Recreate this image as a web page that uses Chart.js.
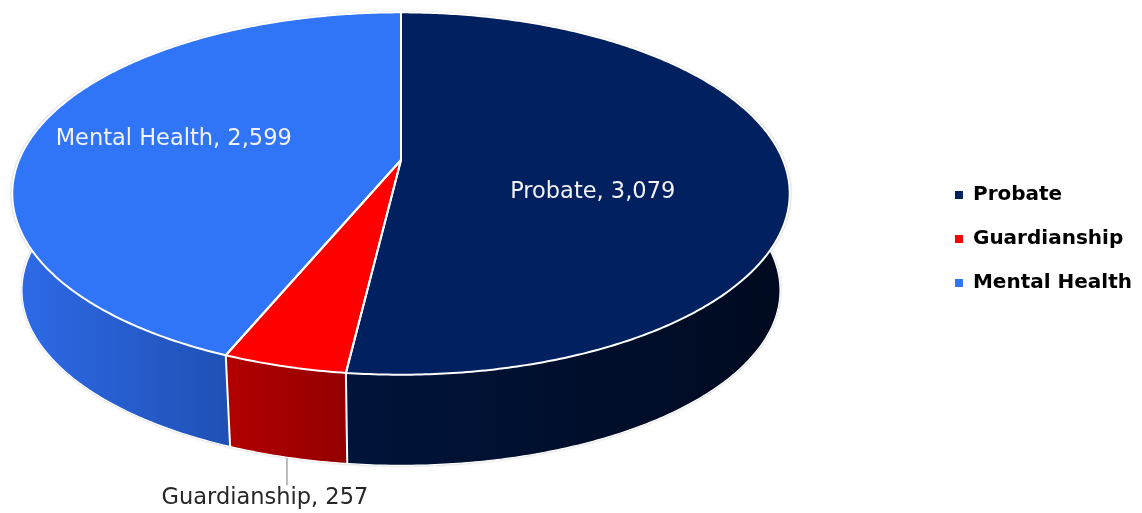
<!DOCTYPE html>
<html>
<head>
<meta charset="utf-8">
<script src="https://cdn.jsdelivr.net/npm/chart.js@4.4.1/dist/chart.umd.min.js"></script>
<style>
    html, body { margin: 0; padding: 0; background: #ffffff; }
    #wrap { width: 1142px; height: 513px; }
</style>
</head>
<body>
<div id="wrap"><canvas id="caseChart" width="1142" height="513"></canvas></div>
<script>
// data
const categories = ['Probate', 'Guardianship', 'Mental Health'];
const caseCounts = [3079, 257, 2599];

// colours (top face, and wall gradient left -> right)
const topColors = ['#002060', '#ff0000', '#3075f7'];
const wallLeft = ['#00143a', '#b20000', '#2e6be8'];
const wallRight = ['#000a20', '#930000', '#1f50b4'];

// perspective ellipses for the top and bottom of the disc
const TOP = { cx: 401, cy: 160, a: 382, b: 175, p: 0.185 };
const BOTTOM = { cx: 401, cy: 258, a: 372.5, b: 169, p: 0.185 };

function project(face, ang, r = 1) {
    const d = 1 - face.p * r * Math.sin(ang);
    return {
        x: face.cx + face.a * r * Math.cos(ang) / d,
        y: face.cy + face.b * r * Math.sin(ang) / d
    };
}

function arcPoints(face, s, e) {
    const pts = [];
    const n = Math.max(2, Math.ceil(Math.abs(e - s) / 0.01));
    for (let k = 0; k <= n; k++) {
        pts.push(project(face, s + (e - s) * k / n));
    }
    return pts;
}

function tracePoints(ctx, pts, moveFirst) {
    pts.forEach((pt, k) => {
        if (k === 0 && moveFirst) ctx.moveTo(pt.x, pt.y);
        else ctx.lineTo(pt.x, pt.y);
    });
}

const WALL_MIN = -0.45;
const WALL_MAX = Math.PI + 0.45;

const pie3d = {
    id: 'pie3d',
    beforeDatasetDraw(chart, args) {
        const ctx = chart.ctx;
        const arcs = args.meta.data;
        ctx.save();

        // soft grey halo round the whole disc
        ctx.save();
        ctx.shadowColor = 'rgba(0,0,0,0.35)';
        ctx.shadowBlur = 3;
        ctx.fillStyle = '#ffffff';
        ctx.beginPath();
        tracePoints(ctx, arcPoints(TOP, WALL_MIN, WALL_MAX), true);
        tracePoints(ctx, arcPoints(BOTTOM, WALL_MAX, WALL_MIN), false);
        ctx.closePath();
        ctx.fill();
        ctx.beginPath();
        tracePoints(ctx, arcPoints(TOP, 0, Math.PI * 2), true);
        ctx.closePath();
        ctx.fill();
        ctx.restore();

        // side walls
        arcs.forEach((arc, i) => {
            const s = Math.max(arc.startAngle, WALL_MIN);
            const e = Math.min(arc.endAngle, WALL_MAX);
            if (e <= s) return;
            const topPts = arcPoints(TOP, s, e);
            const botPts = arcPoints(BOTTOM, e, s);
            const xs = topPts.concat(botPts).map(pt => pt.x);
            const grad = ctx.createLinearGradient(Math.min(...xs), 0, Math.max(...xs), 0);
            grad.addColorStop(0, wallLeft[i]);
            grad.addColorStop(1, wallRight[i]);
            ctx.beginPath();
            tracePoints(ctx, topPts, true);
            tracePoints(ctx, botPts, false);
            ctx.closePath();
            ctx.fillStyle = grad;
            ctx.fill();
        });

        // white edges on walls
        ctx.strokeStyle = '#ffffff';
        ctx.lineWidth = 2;
        arcs.forEach(arc => {
            const ang = arc.endAngle;
            if (ang > 0 && ang < Math.PI) {
                const t = project(TOP, ang);
                const b = project(BOTTOM, ang);
                ctx.beginPath();
                ctx.moveTo(t.x, t.y);
                ctx.lineTo(b.x, b.y);
                ctx.stroke();
            }
        });
        ctx.lineWidth = 1.2;
        ctx.beginPath();
        tracePoints(ctx, arcPoints(BOTTOM, -0.1, Math.PI + 0.1), true);
        ctx.stroke();

        // top face
        const centre = project(TOP, 0, 0);
        arcs.forEach((arc, i) => {
            ctx.beginPath();
            ctx.moveTo(centre.x, centre.y);
            tracePoints(ctx, arcPoints(TOP, arc.startAngle, arc.endAngle), false);
            ctx.closePath();
            ctx.fillStyle = topColors[i];
            ctx.fill();
        });
        ctx.strokeStyle = '#ffffff';
        ctx.lineWidth = 2;
        ctx.lineJoin = 'round';
        arcs.forEach(arc => {
            ctx.beginPath();
            ctx.moveTo(centre.x, centre.y);
            tracePoints(ctx, arcPoints(TOP, arc.startAngle, arc.endAngle), false);
            ctx.closePath();
            ctx.stroke();
        });

        ctx.restore();
        return false;
    },
    // data labels (the dataset draw was cancelled above, so hook the later step)
    afterDatasetsDraw(chart) {
        const ctx = chart.ctx;
        const arcs = chart.getDatasetMeta(0).data;
        const total = caseCounts.reduce((s, v) => s + v, 0);
        ctx.save();
        ctx.font = '22.5px "DejaVu Sans"';
        ctx.textAlign = 'center';
        ctx.textBaseline = 'middle';
        arcs.forEach((arc, i) => {
            const mid = (arc.startAngle + arc.endAngle) / 2;
            const text = categories[i] + ', ' + caseCounts[i].toLocaleString('en-US');
            if (caseCounts[i] / total > 0.1) {
                // inside label
                const r = Math.sin(mid) < 0 ? 0.62 : 0.5;
                const pos = project(TOP, mid, r);
                const dy = Math.abs(Math.sin(mid)) < 0.3 && Math.cos(mid) > 0 ? 27 : 0;
                ctx.fillStyle = '#f2f2f2';
                ctx.fillText(text, pos.x, pos.y + dy);
            } else {
                // outside label with leader line
                const anchor = project(BOTTOM, mid);
                ctx.strokeStyle = '#a6a6a6';
                ctx.lineWidth = 1.5;
                ctx.beginPath();
                ctx.moveTo(anchor.x, anchor.y + 1);
                ctx.lineTo(anchor.x, anchor.y + 28);
                ctx.stroke();
                ctx.fillStyle = '#262626';
                ctx.fillText(text, anchor.x - 22, anchor.y + 41);
            }
        });
        ctx.restore();
    }
};

const ctx = document.getElementById('caseChart').getContext('2d');
const caseChart = new Chart(ctx, {
    type: 'pie',
    data: {
        labels: categories,
        datasets: [{
            data: caseCounts,
            backgroundColor: topColors,
            borderColor: topColors,
            borderWidth: 0
        }]
    },
    options: {
        responsive: false,
        animation: false,
        layout: { padding: { right: 0, bottom: 35 } },
        plugins: {
            legend: {
                position: 'right',
                align: 'center',
                labels: {
                    boxWidth: 8,
                    boxHeight: 8,
                    padding: 24,
                    color: '#000000',
                    font: { family: 'DejaVu Sans', size: 20, weight: 'bold' }
                }
            },
            tooltip: { enabled: false }
        }
    },
    plugins: [pie3d]
});
</script>
</body>
</html>
